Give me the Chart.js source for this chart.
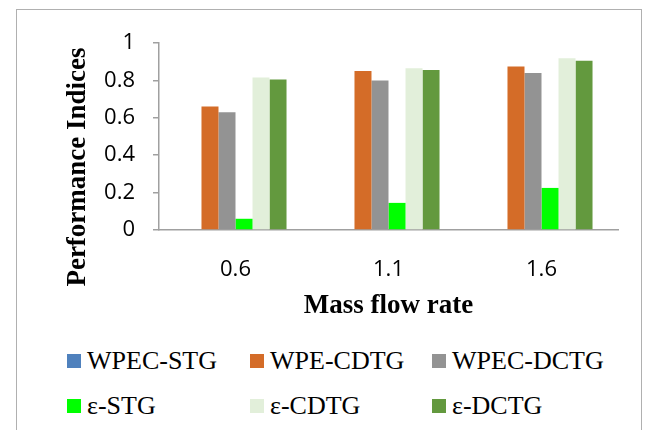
<!DOCTYPE html>
<html>
<head>
<meta charset="utf-8">
<script src="https://cdn.jsdelivr.net/npm/chart.js@4"></script>
<style>
  body { margin: 0; background: #fff; width: 649px; height: 430px; overflow: hidden; position: relative; }
  #frame { position: absolute; left: 16px; top: 9px; width: 626px; height: 440px; border: 1px solid #b0b0b0; box-sizing: border-box; }
  #chart { position: absolute; left: 0; top: 0; }
  #legend { position: absolute; left: 67px; top: 338px; display: grid; grid-template-columns: 183px 182px 190px; grid-auto-rows: 45px;
            font-family: "Liberation Serif", "Times New Roman", serif; font-size: 26px; color: #000; }
  #legend .item { display: flex; align-items: center; white-space: nowrap; }
  #legend .box { width: 14px; height: 14px; margin-right: 6px; flex: none; }
</style>
</head>
<body>
<div id="frame"></div>
<canvas id="chart" width="649" height="330"></canvas>
<div id="legend"></div>
<script>
const massFlow = ['0.6', '1.1', '1.6'];
const wpecStg = [0, 0, 0];
const wpeCdtg = [0.66, 0.85, 0.875];
const wpecDctg = [0.63, 0.80, 0.84];
const epsStg = [0.06, 0.145, 0.225];
const epsCdtg = [0.815, 0.865, 0.918];
const epsDctg = [0.805, 0.855, 0.905];

// custom y title, sits lower than the axis centre like in the original
const yTitle = {
    id: 'yTitle',
    afterDraw(chart) {
        const c = chart.ctx;
        c.save();
        c.translate(78, 167);
        c.rotate(-Math.PI / 2);
        c.font = 'bold 27px "Liberation Serif"';
        c.fillStyle = '#000';
        c.textAlign = 'center';
        c.textBaseline = 'middle';
        c.fillText('Performance Indices', 0, 0);
        c.restore();
    }
};

const ctx = document.getElementById('chart').getContext('2d');
const chart = new Chart(ctx, {
    type: 'bar',
    data: {
        labels: massFlow,
        datasets: [
            { label: 'WPEC-STG', data: wpecStg, backgroundColor: '#4f81bd' },
            { label: 'WPE-CDTG', data: wpeCdtg, backgroundColor: '#d46c28' },
            { label: 'WPEC-DCTG', data: wpecDctg, backgroundColor: '#939393' },
            { label: 'ε-STG', data: epsStg, backgroundColor: '#00ff00' },
            { label: 'ε-CDTG', data: epsCdtg, backgroundColor: '#e2efda' },
            { label: 'ε-DCTG', data: epsDctg, backgroundColor: '#63993e' }
        ]
    },
    options: {
        responsive: false,
        animation: false,
        categoryPercentage: 0.667,
        barPercentage: 1,
        layout: { padding: { left: 0, right: 31, top: 43, bottom: 0 } },
        plugins: { legend: { display: false }, tooltip: { enabled: false } },
        scales: {
            x: {
                grid: { display: false },
                border: { color: '#a0a0a0', width: 1.5 },
                ticks: { color: '#000', font: { family: 'Open Sans', size: 22 }, padding: 19 },
                title: {
                    display: true, text: 'Mass flow rate', color: '#000',
                    font: { family: 'Liberation Serif', size: 27, weight: 'bold' },
                    padding: { top: 0, bottom: 8 }
                },
                afterFit(scale) { scale.height = 100; }
            },
            y: {
                min: 0,
                max: 1,
                ticks: {
                    stepSize: 0.2, color: '#000', font: { family: 'Open Sans', size: 22 }, padding: 18,
                    callback: v => String(Math.round(v * 10) / 10)
                },
                grid: { display: true, drawOnChartArea: false, tickLength: 6, color: '#a0a0a0', lineWidth: 1.5 },
                border: { color: '#a0a0a0', width: 1.5 },
                afterFit(scale) { scale.width = 159; }
            }
        }
    },
    plugins: [yTitle]
});

// legend in three fixed columns, built from the datasets
const legend = document.getElementById('legend');
chart.data.datasets.forEach(ds => {
    const item = document.createElement('div');
    item.className = 'item';
    const box = document.createElement('span');
    box.className = 'box';
    box.style.background = ds.backgroundColor;
    item.appendChild(box);
    item.appendChild(document.createTextNode(ds.label));
    legend.appendChild(item);
});
</script>
</body>
</html>
